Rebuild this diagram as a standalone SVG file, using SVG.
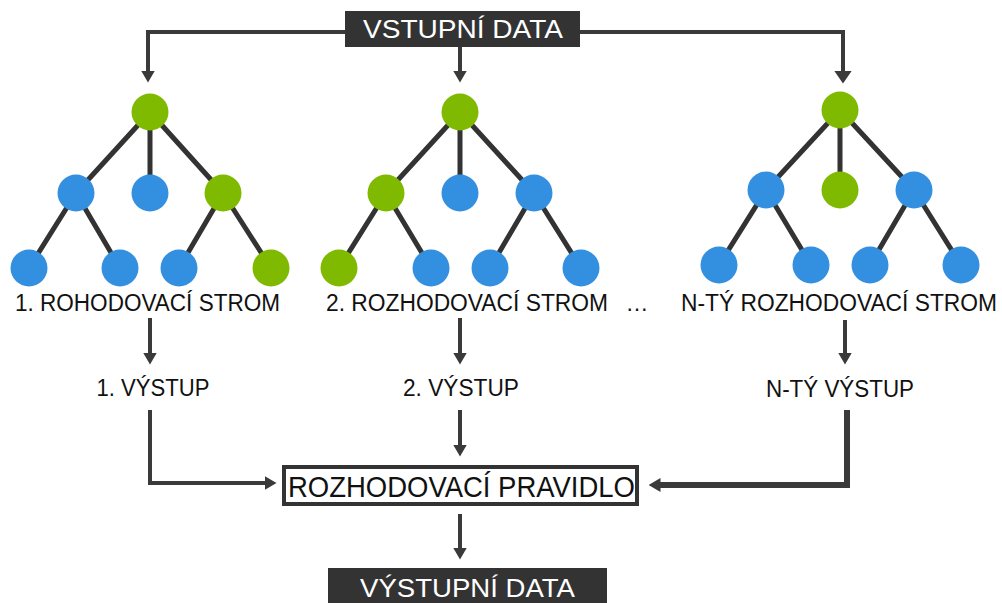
<svg xmlns="http://www.w3.org/2000/svg" width="1002" height="603" viewBox="0 0 1002 603">
<style>
.g{fill:#7fba00}
.b{fill:#338fe0}
.e{stroke:#333;stroke-width:5;fill:none}
.c{stroke:#3a3a3a;stroke-width:4;fill:none}
.t{font-family:"Liberation Sans",Arial,sans-serif;fill:#111;text-anchor:middle}
.w{font-family:"Liberation Sans",Arial,sans-serif;fill:#fff;text-anchor:middle;font-size:25px}
.dark{fill:#333}
</style>
<defs>
<marker id="ah" viewBox="0 -7 12 14" markerWidth="12" markerHeight="14" refX="0.5" refY="0" orient="auto" markerUnits="userSpaceOnUse">
<path d="M0,-7 L12,0 L0,7 z" fill="#3a3a3a"/>
</marker>
<marker id="ahb" viewBox="0 -9 13 18" markerWidth="13" markerHeight="18" refX="0.5" refY="0" orient="auto" markerUnits="userSpaceOnUse">
<path d="M0,-9 L13,0 L0,9 z" fill="#3a3a3a"/>
</marker>
</defs>
<rect width="1002" height="603" fill="#fff"/>

<g id="connectors">
<polyline class="c" points="345,32 148,32 148,71" marker-end="url(#ah)"/>
<line class="c" x1="460" y1="47" x2="460" y2="71" marker-end="url(#ah)"/>
<polyline class="c" points="580,32 843,32 843,71" marker-end="url(#ahb)"/>
<line class="c" x1="150" y1="318" x2="150" y2="353" marker-end="url(#ah)"/>
<line class="c" x1="460" y1="318" x2="460" y2="353" marker-end="url(#ah)"/>
<line class="c" x1="845" y1="320" x2="845" y2="353" marker-end="url(#ah)"/>
<polyline class="c" points="150,410 150,483 265,483" marker-end="url(#ah)"/>
<line class="c" x1="460" y1="410" x2="460" y2="445" marker-end="url(#ah)"/>
<polyline class="c" points="847,410 847,485 660,485" style="stroke-width:6" marker-end="url(#ah)"/>
<line class="c" x1="460" y1="514" x2="460" y2="548" marker-end="url(#ah)"/>
</g>

<g id="input">
<rect class="dark" x="345" y="11" width="235" height="36"/>
<text class="w" x="463" y="38" font-size="26" textLength="200" lengthAdjust="spacingAndGlyphs">VSTUPNÍ DATA</text>
</g>

<g id="tree1">
<path class="e" d="M150,112 L76,193 M150,112 L150,193 M150,112 L223,193 M76,193 L29,268 M76,193 L120,268 M223,193 L179,268 M223,193 L271,268"/>
<circle class="g" cx="150" cy="112" r="18.5"/>
<circle class="b" cx="76" cy="193" r="18.5"/>
<circle class="b" cx="150" cy="193" r="18.5"/>
<circle class="g" cx="223" cy="193" r="18.5"/>
<circle class="b" cx="29" cy="268" r="18.5"/>
<circle class="b" cx="120" cy="268" r="18.5"/>
<circle class="b" cx="179" cy="268" r="18.5"/>
<circle class="g" cx="271" cy="268" r="18.5"/>
<text class="t" x="147.5" y="311" font-size="23" textLength="265" lengthAdjust="spacingAndGlyphs">1. ROHODOVACÍ STROM</text>
</g>

<g id="tree2">
<path class="e" d="M460,112 L386,193 M460,112 L460,193 M460,112 L534,193 M386,193 L339,268 M386,193 L431,268 M534,193 L490,268 M534,193 L581,268"/>
<circle class="g" cx="460" cy="112" r="18.5"/>
<circle class="g" cx="386" cy="193" r="18.5"/>
<circle class="b" cx="460" cy="193" r="18.5"/>
<circle class="b" cx="534" cy="193" r="18.5"/>
<circle class="g" cx="339" cy="268" r="18.5"/>
<circle class="b" cx="431" cy="268" r="18.5"/>
<circle class="b" cx="490" cy="268" r="18.5"/>
<circle class="b" cx="581" cy="268" r="18.5"/>
<text class="t" x="467" y="311" font-size="23" textLength="282" lengthAdjust="spacingAndGlyphs">2. ROZHODOVACÍ STROM</text>
</g>

<text class="t" x="637" y="311" font-size="23">…</text>

<g id="tree3">
<path class="e" d="M840,110 L766,190 M840,110 L840,190 M840,110 L914,190 M766,190 L719,265 M766,190 L811,265 M914,190 L870,265 M914,190 L961,265"/>
<circle class="g" cx="840" cy="110" r="18.5"/>
<circle class="b" cx="766" cy="190" r="18.5"/>
<circle class="g" cx="840" cy="190" r="18.5"/>
<circle class="b" cx="914" cy="190" r="18.5"/>
<circle class="b" cx="719" cy="265" r="18.5"/>
<circle class="b" cx="811" cy="265" r="18.5"/>
<circle class="b" cx="870" cy="265" r="18.5"/>
<circle class="b" cx="961" cy="265" r="18.5"/>
<text class="t" x="839" y="311" font-size="23" textLength="316" lengthAdjust="spacingAndGlyphs">N-TÝ ROZHODOVACÍ STROM</text>
</g>

<g id="out1"><text class="t" x="153" y="396" font-size="23" textLength="113" lengthAdjust="spacingAndGlyphs">1. VÝSTUP</text></g>
<g id="out2"><text class="t" x="461" y="396" font-size="23" textLength="116" lengthAdjust="spacingAndGlyphs">2. VÝSTUP</text></g>
<g id="outn"><text class="t" x="840" y="397" font-size="23" textLength="148" lengthAdjust="spacingAndGlyphs">N-TÝ VÝSTUP</text></g>

<g id="rule">
<rect x="284" y="467" width="353" height="37" fill="#fff" stroke="#333" stroke-width="4"/>
<text class="t" x="461.5" y="497" font-size="30" textLength="347" lengthAdjust="spacingAndGlyphs">ROZHODOVACÍ PRAVIDLO</text>
</g>

<g id="output">
<rect class="dark" x="328" y="568" width="279" height="35"/>
<text class="w" x="467.5" y="597" font-size="26" textLength="215" lengthAdjust="spacingAndGlyphs">VÝSTUPNÍ DATA</text>
</g>
</svg>
